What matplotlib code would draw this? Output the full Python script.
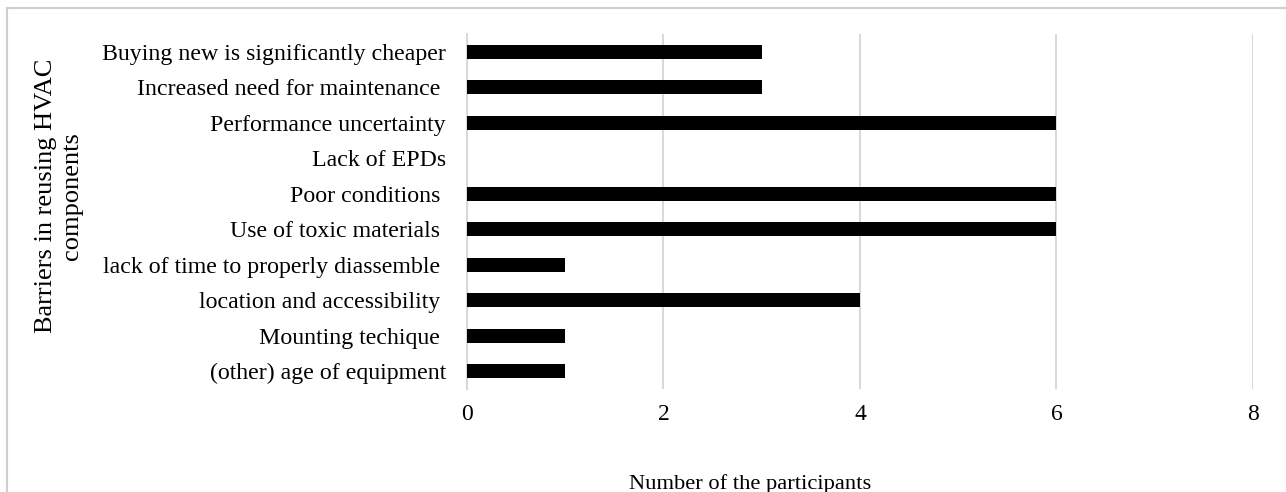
import matplotlib

matplotlib.use("Agg")
import matplotlib.pyplot as plt
from matplotlib.patches import Rectangle

# Barriers to reusing HVAC components (survey counts)
barriers = [
    "Buying new is significantly cheaper",
    "Increased need for maintenance ",
    "Performance uncertainty",
    "Lack of EPDs",
    "Poor conditions ",
    "Use of toxic materials ",
    "lack of time to properly diassemble ",
    "location and accessibility ",
    "Mounting techique ",
    "(other) age of equipment",
]
participants = [3, 3, 6, 0, 6, 6, 1, 4, 1, 1]
x_ticks = [0, 2, 4, 6, 8]

GRID = "#d9d9d9"
plt.rcParams["font.family"] = ["Liberation Serif", "DejaVu Serif"]

fig = plt.figure(figsize=(12.86, 4.92), dpi=100)
ax = fig.add_axes([0.3631, 0.2093, 0.6112, 0.7216])

y = list(range(len(barriers)))
ax.barh(y, participants, height=0.4, color="black", zorder=3)
ax.set_yticks(y)
ax.set_yticklabels(barriers, fontsize=17.2)
ax.set_ylim(len(barriers) - 0.5, -0.5)

ax.set_xlim(0, 8)
ax.set_xticks(x_ticks)
ax.set_xticklabels([str(t) for t in x_ticks], fontsize=17)
ax.grid(axis="x", color=GRID, linewidth=1.5, zorder=0)
ax.tick_params(axis="both", length=0)
ax.tick_params(axis="x", pad=11)
ax.tick_params(axis="y", pad=15)
for side in ("top", "right", "bottom"):
    ax.spines[side].set_visible(False)
ax.spines["left"].set_color(GRID)
ax.spines["left"].set_linewidth(1.5)

fig.text(59 / 1286, 1 - 196 / 492, "Barriers in reusing HVAC\ncomponents",
         rotation=90, ha="center", va="center", fontsize=19, linespacing=1.25)
fig.text(750 / 1286, 1 - 484 / 492, "Number of the participants",
         ha="center", va="center", fontsize=16.2)

# outer chart frame (left and top edges show, the rest runs off the canvas)
fig.patches.append(Rectangle((7 / 1286, -0.1), 1.2, 1 - 8 / 492 + 0.1,
                             transform=fig.transFigure, fill=False,
                             edgecolor="#cfcfcf", linewidth=1.5))

fig.savefig("out.png", dpi=100, facecolor="white")
